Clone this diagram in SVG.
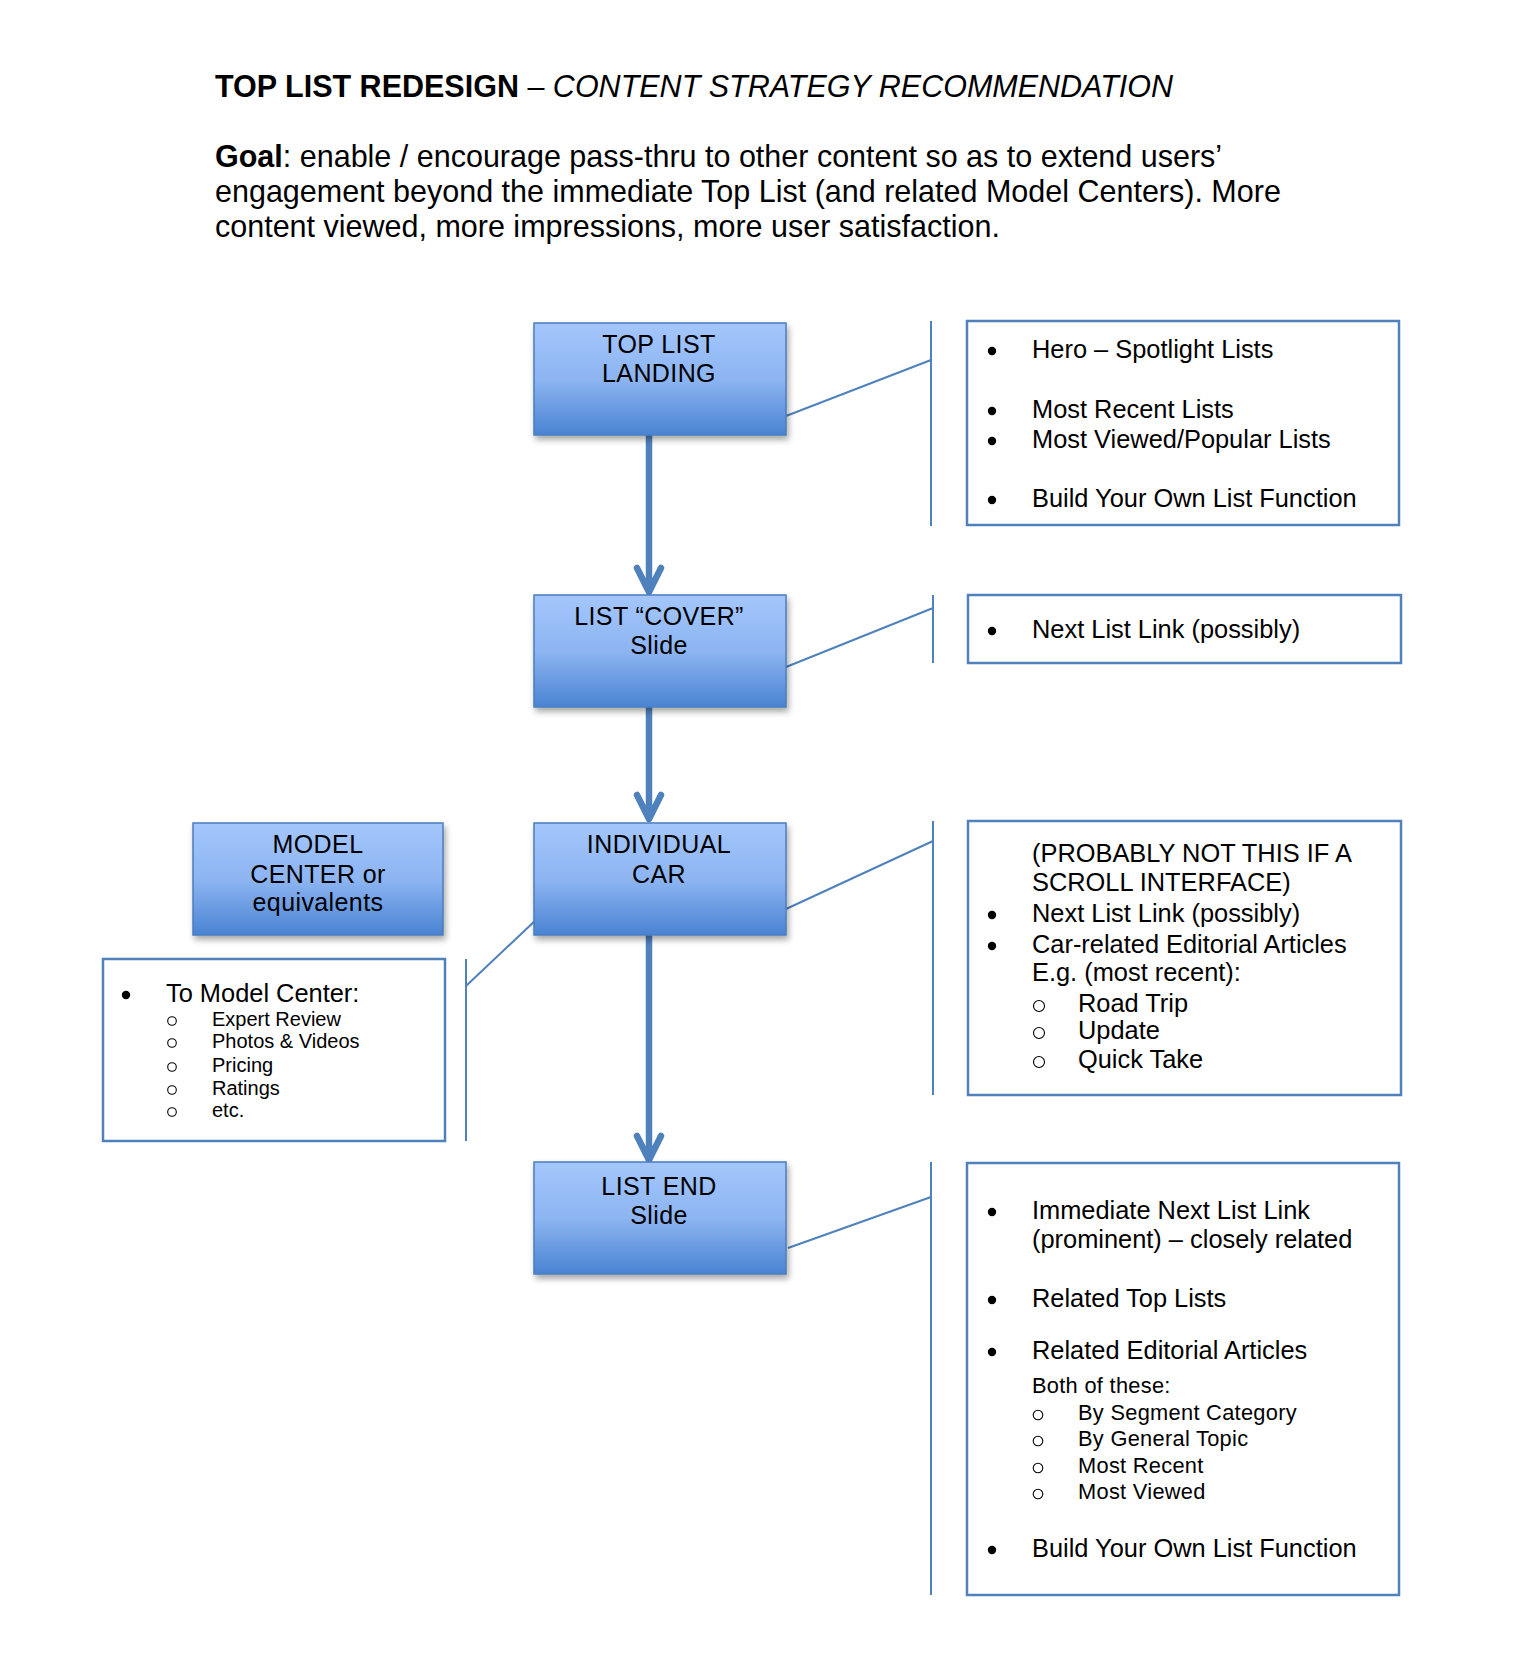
<svg xmlns="http://www.w3.org/2000/svg" width="1520" height="1666" viewBox="0 0 1520 1666">
<defs>
<linearGradient id="g" x1="0" y1="0" x2="0" y2="1">
<stop offset="0" stop-color="#A4C6FC"/>
<stop offset="0.5" stop-color="#8DB5F2"/>
<stop offset="1" stop-color="#4A83D2"/>
</linearGradient>
<filter id="sh" x="-10%" y="-10%" width="125%" height="130%">
<feDropShadow dx="2" dy="4" stdDeviation="3" flood-color="#000" flood-opacity="0.35"/>
</filter>
</defs>
<style>
text{font-family:"Liberation Sans",Arial,sans-serif;fill:#000}
.t{font-size:30.5px}
.goal{font-size:30.5px}
.n{font-size:25px;text-anchor:middle;letter-spacing:0.4px}
.node{fill:url(#g);stroke:#4A7EC0;stroke-width:1.5;filter:url(#sh)}
.box{fill:#fff;stroke:#4F81BD;stroke-width:2.5}
.br{stroke:#4F81BD;stroke-width:2;fill:none}
.arr{stroke:#4F81BD;stroke-width:6.5;fill:none;stroke-linecap:round;stroke-linejoin:round}
.b{font-size:25.4px}
.dot{fill:#000}
.s{font-size:20px}
.s2{font-size:21.8px;letter-spacing:0.3px}
.ring{fill:none;stroke:#000;stroke-width:1.1}
</style>
<rect width="1520" height="1666" fill="#fff"/>
<g id="header">
<text class="t" x="215" y="97"><tspan font-weight="bold">TOP LIST REDESIGN</tspan> – <tspan font-style="italic">CONTENT STRATEGY RECOMMENDATION</tspan></text>
<text class="goal" x="215" y="167"><tspan font-weight="bold">Goal</tspan>: enable / encourage pass-thru to other content so as to extend users’</text>
<text class="goal" x="215" y="202">engagement beyond the immediate Top List (and related Model Centers). More</text>
<text class="goal" x="215" y="237">content viewed, more impressions, more user satisfaction.</text>
</g>
<g id="connectors">
<path class="arr" d="M649 435V590M637 568L649 592L661 568"/>
<path class="arr" d="M649 707V816M637 795L649 819L661 795"/>
<path class="arr" d="M649 935V1158M637 1136L649 1160L661 1136"/>
<path class="br" d="M931 321V526M786 416L931 360"/>
<path class="br" d="M933 595V663M786 667L933 608"/>
<path class="br" d="M933 821V1095M786 909L933 841"/>
<path class="br" d="M931 1162V1595M788 1248L931 1197"/>
<path class="br" d="M466 959V1141M466 986L538 918"/>
</g>
<g id="top-list-landing">
<rect class="node" x="534" y="323" width="252" height="112"/>
<text class="n" x="659" y="353">TOP LIST</text>
<text class="n" x="659" y="382">LANDING</text>
</g>
<g id="list-cover">
<rect class="node" x="534" y="595" width="252" height="112"/>
<text class="n" x="659" y="625">LIST “COVER”</text>
<text class="n" x="659" y="654">Slide</text>
</g>
<g id="individual-car">
<rect class="node" x="534" y="823" width="252" height="112"/>
<text class="n" x="659" y="853">INDIVIDUAL</text>
<text class="n" x="659" y="883">CAR</text>
</g>
<g id="list-end">
<rect class="node" x="534" y="1162" width="252" height="112"/>
<text class="n" x="659" y="1195">LIST END</text>
<text class="n" x="659" y="1224">Slide</text>
</g>
<g id="model-center">
<rect class="node" x="193" y="823" width="250" height="112"/>
<text class="n" x="318" y="853">MODEL</text>
<text class="n" x="318" y="883">CENTER or</text>
<text class="n" x="318" y="911">equivalents</text>
</g>
<g id="landing-notes">
<rect class="box" x="967" y="321" width="432" height="204"/>
<circle class="dot" cx="992" cy="351" r="4.2"/><text class="b" x="1032" y="358">Hero – Spotlight Lists</text>
<circle class="dot" cx="992" cy="411" r="4.2"/><text class="b" x="1032" y="418">Most Recent Lists</text>
<circle class="dot" cx="992" cy="441" r="4.2"/><text class="b" x="1032" y="448">Most Viewed/Popular Lists</text>
<circle class="dot" cx="992" cy="500" r="4.2"/><text class="b" x="1032" y="507">Build Your Own List Function</text>
</g>
<g id="cover-notes">
<rect class="box" x="968" y="595" width="433" height="68"/>
<circle class="dot" cx="992" cy="631" r="4.2"/><text class="b" x="1032" y="638">Next List Link (possibly)</text>
</g>
<g id="car-notes">
<rect class="box" x="968" y="821" width="433" height="274"/>
<text class="b" x="1032" y="862">(PROBABLY NOT THIS IF A</text>
<text class="b" x="1032" y="891">SCROLL INTERFACE)</text>
<circle class="dot" cx="992" cy="915" r="4.2"/><text class="b" x="1032" y="922">Next List Link (possibly)</text>
<circle class="dot" cx="992" cy="946" r="4.2"/><text class="b" x="1032" y="953">Car-related Editorial Articles</text>
<text class="b" x="1032" y="981">E.g. (most recent):</text>
<circle class="ring" cx="1039" cy="1006" r="5.5"/><text class="b" x="1078" y="1012">Road Trip</text>
<circle class="ring" cx="1039" cy="1033" r="5.5"/><text class="b" x="1078" y="1039">Update</text>
<circle class="ring" cx="1039" cy="1062" r="5.5"/><text class="b" x="1078" y="1068">Quick Take</text>
</g>
<g id="end-notes">
<rect class="box" x="967" y="1163" width="432" height="432"/>
<circle class="dot" cx="992" cy="1212" r="4.2"/><text class="b" x="1032" y="1219">Immediate Next List Link</text>
<text class="b" x="1032" y="1248">(prominent) – closely related</text>
<circle class="dot" cx="992" cy="1300" r="4.2"/><text class="b" x="1032" y="1307">Related Top Lists</text>
<circle class="dot" cx="992" cy="1352" r="4.2"/><text class="b" x="1032" y="1359">Related Editorial Articles</text>
<text class="s2" x="1032" y="1393">Both of these:</text>
<circle class="ring" cx="1038" cy="1415" r="4.8"/><text class="s2" x="1078" y="1420">By Segment Category</text>
<circle class="ring" cx="1038" cy="1441" r="4.8"/><text class="s2" x="1078" y="1446">By General Topic</text>
<circle class="ring" cx="1038" cy="1468" r="4.8"/><text class="s2" x="1078" y="1473">Most Recent</text>
<circle class="ring" cx="1038" cy="1494" r="4.8"/><text class="s2" x="1078" y="1499">Most Viewed</text>
<circle class="dot" cx="992" cy="1550" r="4.2"/><text class="b" x="1032" y="1557">Build Your Own List Function</text>
</g>
<g id="model-notes">
<rect class="box" x="103" y="959" width="342" height="182"/>
<circle class="dot" cx="126" cy="995" r="4.2"/><text class="b" x="166" y="1002">To Model Center:</text>
<circle class="ring" cx="172" cy="1021" r="4.3"/><text class="s" x="212" y="1026">Expert Review</text>
<circle class="ring" cx="172" cy="1043" r="4.3"/><text class="s" x="212" y="1048">Photos &amp; Videos</text>
<circle class="ring" cx="172" cy="1067" r="4.3"/><text class="s" x="212" y="1072">Pricing</text>
<circle class="ring" cx="172" cy="1090" r="4.3"/><text class="s" x="212" y="1095">Ratings</text>
<circle class="ring" cx="172" cy="1112" r="4.3"/><text class="s" x="212" y="1117">etc.</text>
</g>
</svg>
